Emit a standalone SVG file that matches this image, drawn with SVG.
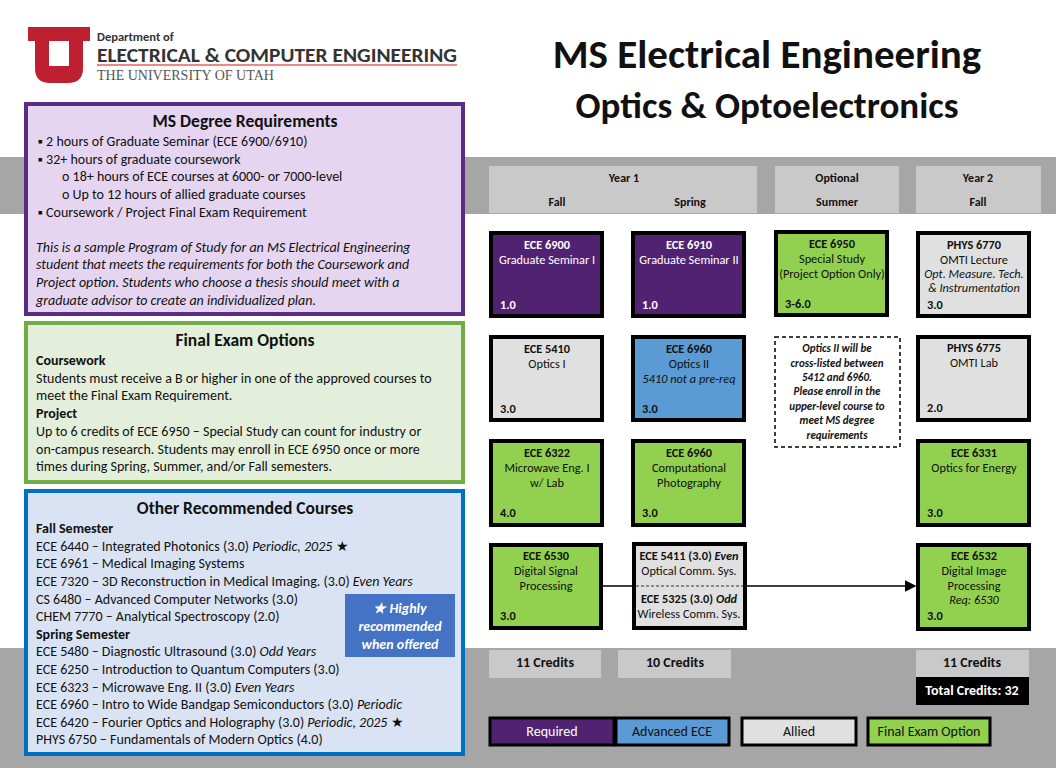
<svg xmlns="http://www.w3.org/2000/svg" width="1056" height="768" viewBox="0 0 1056 768">
<style>
text{font-family:Carlito,"Liberation Sans",Arial,sans-serif;fill:#111}
.b{font-weight:bold}.i{font-style:italic}
.c{text-anchor:middle}
.n rect{stroke:#000;stroke-width:4}
.nt{font-size:12.3px}
.hd{font-size:12px;font-weight:bold;text-anchor:middle}
.w{fill:#fff}
.p{font-size:14px}
</style>
<defs><marker id="ar" markerWidth="8" markerHeight="8" refX="7" refY="4" orient="auto"><path d="M0,0L8,4L0,8z" fill="#000"/></marker></defs>
<rect width="1056" height="768" fill="#fff"/>
<rect x="0" y="157" width="1056" height="57" fill="#a6a6a6"/>
<rect x="0" y="648" width="1056" height="120" fill="#a6a6a6"/>
<g id="logo">
<path d="M28,27H90V41H83V68Q83,83,68,83H50Q35,83,35,68V41H28ZM49,41V66H69V41Z" fill="#be2032"/>
<text x="97" y="41" style="font-size:12.5px;font-weight:bold;fill:#333">Department of</text>
<text x="97" y="62" style="font-size:21px;font-weight:bold;fill:#333" textLength="360" lengthAdjust="spacingAndGlyphs">ELECTRICAL &amp; COMPUTER ENGINEERING</text>
<rect x="97" y="64" width="360" height="2" fill="#e88"/>
<text x="97" y="80" style="font-family:'Liberation Serif',serif;font-size:14px;fill:#555">THE UNIVERSITY OF UTAH</text>
</g>
<text x="767" y="68" class="b c" style="font-size:41px">MS Electrical Engineering</text>
<text x="767" y="118" class="b c" style="font-size:37px">Optics &amp; Optoelectronics</text>
<g id="req">
<rect x="26" y="104" width="437" height="210" fill="#e5d5f0" stroke="#5b2c83" stroke-width="4"/>
<text x="245" y="127" class="b c" style="font-size:17.5px">MS Degree Requirements</text>
<g class="p"><text x="38" y="146">▪   2 hours of Graduate Seminar (ECE 6900/6910)</text>
<text x="38" y="164">▪   32+ hours of graduate coursework</text>
<text x="62" y="181">o   18+ hours of ECE courses at 6000- or 7000-level</text>
<text x="62" y="199">o   Up to 12 hours of allied graduate courses</text>
<text x="38" y="217">▪    Coursework / Project Final Exam Requirement</text>
<g class="i"><text x="36" y="252">This is a sample Program of Study for an MS Electrical Engineering</text>
<text x="36" y="269">student that meets the requirements for both the Coursework and</text>
<text x="36" y="287">Project option. Students who choose a thesis should meet with a</text>
<text x="36" y="305">graduate advisor to create an individualized plan.</text></g></g>
</g>
<g id="final">
<rect x="26" y="323" width="437" height="159" fill="#e3efda" stroke="#70ad47" stroke-width="4"/>
<text x="245" y="346" class="b c" style="font-size:17.5px">Final Exam Options</text>
<g class="p"><text x="36" y="365" class="b">Coursework</text>
<text x="36" y="383">Students must receive a B or higher in one of the approved courses to</text>
<text x="36" y="400">meet the Final Exam Requirement.</text>
<text x="36" y="418" class="b">Project</text>
<text x="36" y="436">Up to 6 credits of ECE 6950  – Special Study can count for industry or</text>
<text x="36" y="454">on-campus research. Students may enroll in ECE 6950  once or more</text>
<text x="36" y="471">times during Spring, Summer, and/or Fall semesters.</text></g>
</g>
<g id="other">
<rect x="26" y="491" width="437" height="263" fill="#dae3f3" stroke="#0070c0" stroke-width="4"/>
<text x="245" y="514" class="b c" style="font-size:17.5px">Other Recommended Courses</text>
<g class="p">
<text x="36" y="533" class="b">Fall Semester</text>
<text x="36" y="551">ECE 6440  – Integrated Photonics (3.0) <tspan class="i">Periodic, 2025</tspan>  ★</text>
<text x="36" y="568">ECE 6961  – Medical Imaging Systems</text>
<text x="36" y="586">ECE 7320  – 3D Reconstruction in Medical Imaging. (3.0) <tspan class="i">Even Years</tspan></text>
<text x="36" y="604">CS 6480  – Advanced Computer Networks (3.0)</text>
<text x="36" y="621">CHEM 7770  – Analytical Spectroscopy (2.0)</text>
<text x="36" y="639" class="b">Spring Semester</text>
<text x="36" y="656">ECE 5480  – Diagnostic Ultrasound (3.0) <tspan class="i">Odd Years</tspan></text>
<text x="36" y="674">ECE 6250  – Introduction to Quantum Computers (3.0)</text>
<text x="36" y="692">ECE 6323  – Microwave Eng. II (3.0) <tspan class="i">Even Years</tspan></text>
<text x="36" y="709">ECE 6960  – Intro to Wide Bandgap Semiconductors (3.0) <tspan class="i">Periodic</tspan></text>
<text x="36" y="727">ECE 6420  – Fourier Optics and Holography (3.0) <tspan class="i">Periodic, 2025</tspan>  ★</text>
<text x="36" y="744">PHYS 6750  – Fundamentals of Modern Optics (4.0)</text>
</g>
<rect x="345" y="594" width="110" height="63" fill="#4472c4"/>
<g class="b i c" style="font-size:14px"><text x="400" y="613" class="w">★ Highly</text><text x="400" y="631" class="w">recommended</text><text x="400" y="649" class="w">when offered</text></g>
</g>
<g id="headers">
<rect x="489" y="166" width="268" height="47" fill="#c9c9c9"/>
<rect x="775" y="166" width="124" height="47" fill="#c9c9c9"/>
<rect x="916" y="166" width="125" height="47" fill="#c9c9c9"/>
<text x="624" y="182" class="hd">Year 1</text><text x="557" y="206" class="hd">Fall</text><text x="690" y="206" class="hd">Spring</text>
<text x="837" y="182" class="hd">Optional</text><text x="837" y="206" class="hd">Summer</text>
<text x="978" y="182" class="hd">Year 2</text><text x="978" y="206" class="hd">Fall</text>
</g>
<g class="nt">
<g id="ece6900" class="n"><rect x="491" y="233" width="111" height="83" fill="#522272"/>
<text x="547" y="249" class="c w b">ECE 6900</text><text x="547" y="264" class="c w">Graduate Seminar I</text><text x="500" y="309" class="w b">1.0</text></g>
<g id="ece6910" class="n"><rect x="633" y="233" width="111" height="83" fill="#522272"/>
<text x="689" y="249" class="c w b">ECE 6910</text><text x="689" y="264" class="c w">Graduate Seminar II</text><text x="642" y="309" class="w b">1.0</text></g>
<g id="ece6950" class="n"><rect x="776" y="232" width="111" height="83" fill="#92d050"/>
<text x="832" y="248" class="c b">ECE 6950</text><text x="832" y="263" class="c">Special Study</text><text x="832" y="278" class="c">(Project Option Only)</text><text x="785" y="308" class="b">3-6.0</text></g>
<g id="phys6770" class="n"><rect x="918" y="233" width="111" height="83" fill="#e0e0e0"/>
<text x="974" y="249" class="c b">PHYS 6770</text><text x="974" y="264" class="c">OMTI Lecture</text><text x="974" y="278" class="c i">Opt. Measure. Tech.</text><text x="974" y="292" class="c i">&amp; Instrumentation</text><text x="927" y="309" class="b">3.0</text></g>
<g id="ece5410" class="n"><rect x="491" y="337" width="111" height="83" fill="#e0e0e0"/>
<text x="547" y="353" class="c b">ECE 5410</text><text x="547" y="368" class="c">Optics I</text><text x="500" y="413" class="b">3.0</text></g>
<g id="ece6960a" class="n"><rect x="633" y="337" width="111" height="83" fill="#5b9bd5"/>
<text x="689" y="353" class="c b">ECE 6960</text><text x="689" y="368" class="c">Optics II</text><text x="689" y="383" class="c i">5410 not a pre-req</text><text x="642" y="413" class="b">3.0</text></g>
<g id="note"><rect x="775" y="337" width="125" height="110" fill="#fff" stroke="#000" stroke-width="1.5" stroke-dasharray="4,3"/>
<g class="b i c" style="font-size:11px"><text x="837" y="352">Optics II will be</text><text x="837" y="367">cross-listed between</text><text x="837" y="381">5412 and 6960.</text><text x="837" y="395">Please enroll in the</text><text x="837" y="410">upper-level course to</text><text x="837" y="424">meet MS degree</text><text x="837" y="439">requirements</text></g></g>
<g id="phys6775" class="n"><rect x="918" y="337" width="111" height="83" fill="#e0e0e0"/>
<text x="974" y="352" class="c b">PHYS 6775</text><text x="974" y="367" class="c">OMTI Lab</text><text x="927" y="412" class="b">2.0</text></g>
<g id="ece6322" class="n"><rect x="491" y="441" width="111" height="84" fill="#92d050"/>
<text x="547" y="457" class="c b">ECE 6322</text><text x="547" y="472" class="c">Microwave Eng. I</text><text x="547" y="487" class="c">w/ Lab</text><text x="500" y="517" class="b">4.0</text></g>
<g id="ece6960b" class="n"><rect x="633" y="441" width="111" height="84" fill="#92d050"/>
<text x="689" y="457" class="c b">ECE 6960</text><text x="689" y="472" class="c">Computational</text><text x="689" y="487" class="c">Photography</text><text x="642" y="517" class="b">3.0</text></g>
<g id="ece6331" class="n"><rect x="918" y="441" width="111" height="84" fill="#92d050"/>
<text x="974" y="457" class="c b">ECE 6331</text><text x="974" y="472" class="c">Optics for Energy</text><text x="927" y="517" class="b">3.0</text></g>
<g id="connectors"><line x1="602" y1="586" x2="634" y2="586" stroke="#000" stroke-width="1.5"/><line x1="746" y1="586" x2="915" y2="586" stroke="#000" stroke-width="1.5" marker-end="url(#ar)"/></g>
<g id="ece6530" class="n"><rect x="491" y="545" width="110" height="83" fill="#92d050"/>
<text x="546" y="560" class="c b">ECE 6530</text><text x="546" y="575" class="c">Digital Signal</text><text x="546" y="590" class="c">Processing</text><text x="500" y="620" class="b">3.0</text></g>
<g id="ece5411" class="n"><rect x="634" y="544" width="111" height="84" fill="#e0e0e0"/>
<line x1="636" y1="586" x2="743" y2="586" stroke="#333" stroke-width="1" stroke-dasharray="3,2"/>
<text x="689" y="560" class="c"><tspan class="b">ECE 5411 (3.0)</tspan> <tspan class="b i">Even</tspan></text><text x="689" y="575" class="c">Optical Comm. Sys.</text>
<text x="689" y="603" class="c"><tspan class="b">ECE 5325 (3.0)</tspan> <tspan class="b i">Odd</tspan></text><text x="689" y="618" class="c">Wireless Comm. Sys.</text></g>
<g id="ece6532" class="n"><rect x="918" y="545" width="111" height="84" fill="#92d050"/>
<text x="974" y="560" class="c b">ECE 6532</text><text x="974" y="575" class="c">Digital Image</text><text x="974" y="590" class="c">Processing</text><text x="974" y="604" class="c i">Req: 6530</text><text x="927" y="620" class="b">3.0</text></g>
</g>
<g id="credits" style="font-size:14px;font-weight:bold">
<rect x="489" y="650" width="112" height="28" fill="#c9c9c9"/><text x="545" y="667" class="c b">11 Credits</text>
<rect x="618" y="650" width="113" height="28" fill="#c9c9c9"/><text x="675" y="667" class="c b">10 Credits</text>
<rect x="916" y="650" width="113" height="28" fill="#c9c9c9"/><text x="972" y="667" class="c b">11 Credits</text>
<rect x="916" y="677" width="113" height="28" fill="#000"/><text x="972" y="695" class="c b w">Total Credits: 32</text>
</g>
<g id="legend" style="font-size:14px">
<rect x="490" y="718" width="124" height="27" fill="#522272" stroke="#000" stroke-width="3"/><text x="552" y="736" class="c w">Required</text>
<rect x="616" y="718" width="113" height="27" fill="#5b9bd5" stroke="#000" stroke-width="3"/><text x="672" y="736" class="c">Advanced ECE</text>
<rect x="742" y="718" width="114" height="27" fill="#e0e0e0" stroke="#000" stroke-width="3"/><text x="799" y="736" class="c">Allied</text>
<rect x="868" y="718" width="122" height="27" fill="#92d050" stroke="#000" stroke-width="3"/><text x="929" y="736" class="c">Final Exam Option</text>
</g>
</svg>
